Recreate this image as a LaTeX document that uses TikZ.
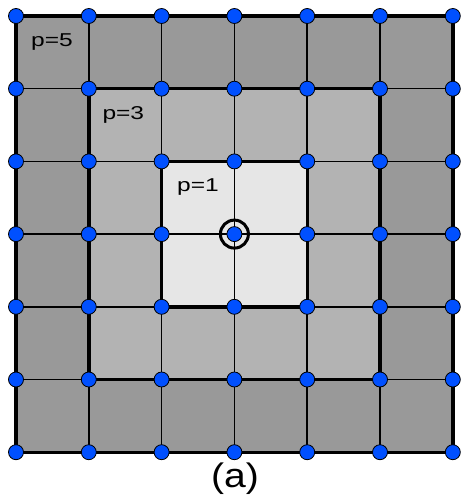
\documentclass[tikz,border=0pt]{standalone}
\usepackage{fontspec}
\setmainfont{Liberation Sans}
\definecolor{dotblue}{HTML}{0050FF}
\definecolor{outergray}{HTML}{999999}
\definecolor{midgray}{HTML}{B3B3B3}
\definecolor{innergray}{HTML}{E6E6E6}
\begin{document}
\begin{tikzpicture}[x=1pt,y=-1pt,
  thinline/.style={line width=1.6pt,black},
  thickline/.style={line width=3.4pt,black,line join=miter},
  dot/.style={circle,fill=dotblue,draw=black,line width=0.8pt,inner sep=0pt,minimum size=15pt},
  ring/.style={circle,draw=black,line width=3pt,inner sep=0pt,minimum size=28pt},
  lbl/.style={font=\fontsize{18.6}{18.6}\selectfont,anchor=base west,inner sep=0pt},
  caption/.style={font=\fontsize{34}{34}\selectfont,anchor=base,inner sep=0pt}]
\useasboundingbox (0,0) rectangle (460,497);
\foreach \i in {0,...,6}{\foreach \j in {0,...,6}{
  \coordinate (g\i\j) at ({16+72.8*\i},{16+72.7*\j});}}
% shaded regions
\fill[outergray] (g00) rectangle (g66);
\fill[midgray] (g11) rectangle (g55);
\fill[innergray] (g22) rectangle (g44);
% thin grid lines
\foreach \k in {1,...,5}{
  \draw[thinline] (g\k0) -- (g\k6);
  \draw[thinline] (g0\k) -- (g6\k);}
% thick squares
\draw[thickline] (g00) -- (g60) -- (g66) -- (g06) -- cycle;
\draw[thickline] (g11) -- (g51) -- (g55) -- (g15) -- cycle;
\draw[thickline] (g22) -- (g42) -- (g44) -- (g24) -- cycle;
% labels
\node[lbl] (p5) at (31,47) {\scalebox{1.32}[1]{p=5}};
\node[lbl] (p3) at (102.3,119.3) {\scalebox{1.32}[1]{p=3}};
\node[lbl] (p1) at (177,191.3) {\scalebox{1.32}[1]{p=1}};
% ring around center
\node[ring] (center) at (g33) {};
% dots
\foreach \i in {0,...,6}{\foreach \j in {0,...,6}{
  \node[dot] (d\i\j) at (g\i\j) {};}}
% caption
\node[caption] (cap) at (235,487.8) {\scalebox{1.15}[1]{(a)}};
\end{tikzpicture}
\end{document}
